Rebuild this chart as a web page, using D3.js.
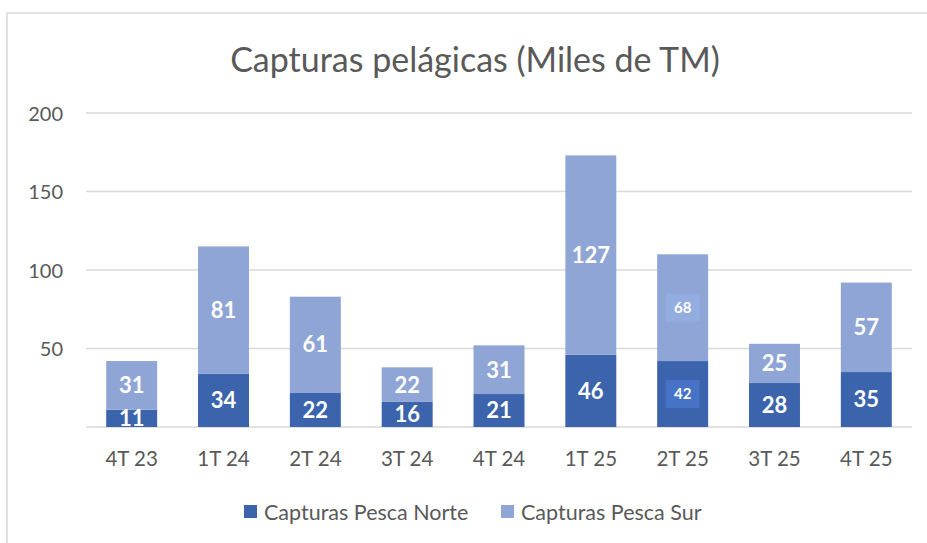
<!DOCTYPE html>
<html><head><meta charset="utf-8">
<script src="https://cdn.jsdelivr.net/npm/d3@7"></script>
<style>body{margin:0;background:#fff}svg{display:block;font-family:Lato,"Open Sans",sans-serif}</style>
</head><body><svg id="c" width="927" height="543"></svg>
<script>
const categories = ["4T 23","1T 24","2T 24","3T 24","4T 24","1T 25","2T 25","3T 25","4T 25"];
const norte = [11,34,22,16,21,46,42,28,35];
const sur = [31,81,61,22,31,127,68,25,57];
const yTicks = [50,100,150,200];
const seriesNames = ["Capturas Pesca Norte","Capturas Pesca Sur"];
const colors = ["#3b64ad","#8fa5d5"];

const svg = d3.select("#c");
svg.append("path").attr("d","M7,543 L7,13 L927,13").attr("fill","none").attr("stroke","#d9d9d9").attr("stroke-width",1.5);

const x = d3.scaleBand().domain(categories).range([86,912]).paddingInner(0.445).paddingOuter(0.22);
const y = d3.scaleLinear().domain([0,200]).range([427,113]);

svg.append("text").attr("x",475).attr("y",72).attr("text-anchor","middle").attr("font-size",34).attr("fill","#595959").text("Capturas pelágicas (Miles de TM)");

const g = svg.append("g");
g.selectAll(".grid").data(yTicks.concat([0])).join("line")
 .attr("x1",86).attr("x2",912).attr("y1",d=>y(d)).attr("y2",d=>y(d))
 .attr("stroke","#d9d9d9").attr("stroke-width",1.3);

const yAxis = d3.axisLeft(y).tickValues(yTicks).tickSize(0).tickPadding(0);
svg.append("g").attr("transform","translate(63,0)").call(yAxis)
 .call(a=>a.select(".domain").remove())
 .call(a=>a.selectAll("text").attr("font-size",20).attr("fill","#595959").attr("font-family","Lato,'Open Sans',sans-serif").attr("dy","0.35em"));

const xAxis = d3.axisBottom(x).tickSize(0).tickPadding(0);
svg.append("g").attr("transform","translate(0,451)").call(xAxis)
 .call(a=>a.select(".domain").remove())
 .call(a=>a.selectAll("text").attr("font-size",20.5).attr("fill","#595959").attr("font-family","Lato,'Open Sans',sans-serif").attr("dy","0.71em"));

const data = categories.map((c,i)=>({c, n:norte[i], s:sur[i]}));
const stack = d3.stack().keys(["n","s"])(data);

stack.forEach((layer,li)=>{
  g.selectAll(".bar"+li).data(layer).join("rect")
   .attr("x",d=>x(d.data.c)).attr("width",x.bandwidth())
   .attr("y",d=>y(d[1])).attr("height",d=>y(d[0])-y(d[1]))
   .attr("fill",colors[li]);
});

const boxed = "2T 25";
stack.forEach((layer,li)=>{
  layer.forEach(d=>{
    const cx = x(d.data.c)+x.bandwidth()/2;
    const cy = (y(d[0])+y(d[1]))/2;
    const v = d[1]-d[0];
    if(d.data.c===boxed){
      g.append("rect").attr("x",cx-17).attr("y",cy-14).attr("width",34).attr("height",28)
        .attr("fill",li===0?"#4673c6":"#93ade0");
      g.append("text").attr("x",cx).attr("y",cy).attr("dy","0.36em").attr("text-anchor","middle")
        .attr("font-size",15).attr("font-weight","bold").attr("fill","#fff").text(v);
    } else {
      g.append("text").attr("x",cx).attr("y",cy).attr("dy","0.36em").attr("text-anchor","middle")
        .attr("font-size",22).attr("font-weight","bold").attr("fill","#fff").text(v);
    }
  });
});

const leg = svg.append("g");
const legX = [244,501];
seriesNames.forEach((n,i)=>{
  leg.append("rect").attr("x",legX[i]).attr("y",505).attr("width",13).attr("height",13).attr("fill",colors[i]);
  leg.append("text").attr("x",legX[i]+20).attr("y",512).attr("dy","0.35em").attr("font-size",21.5).attr("fill","#595959").text(n);
});
</script></body></html>
